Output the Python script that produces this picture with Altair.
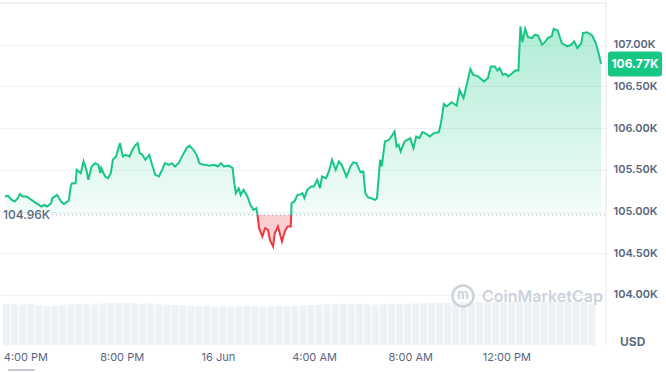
import altair as alt
import pandas as pd

# ---------------- data ----------------
START = "2025-06-15 15:09"
BASE = 104.96
LAST = 106.77

price_minutes = [0, 7, 17, 24, 32, 37, 44, 54, 66, 78, 91, 98, 105, 115, 118, 130, 140, 147, 159, 164,
                 167, 176, 179, 189, 196, 203, 208, 216, 225, 233, 238, 240, 250, 257, 264, 269, 277, 287, 294, 301,
                 311, 318, 326, 331, 336, 343, 350, 360, 367, 375, 384, 392, 399, 409, 416, 424, 433, 446, 453, 460,
                 470, 478, 485, 495, 502, 509, 522, 531, 539, 546, 558, 568, 571, 576, 583, 588, 595, 605, 612, 620,
                 627, 629, 634, 642, 649, 656, 661, 669, 673, 681, 691, 698, 705, 713, 715, 722, 730, 735, 742, 747,
                 754, 764, 771, 779, 786, 791, 801, 808, 816, 825, 833, 840, 852, 862, 869, 877, 887, 894, 899, 906,
                 913, 923, 928, 936, 940, 948, 958, 967, 972, 977, 982, 987, 997, 1004, 1011, 1019, 1026, 1034, 1041, 1048,
                 1060, 1070, 1082, 1087, 1095, 1102, 1114, 1127, 1134, 1144, 1151, 1161, 1168, 1180, 1188, 1195, 1205, 1212, 1222, 1229,
                 1234, 1242, 1249, 1256, 1266, 1273, 1281, 1286, 1291, 1298, 1305, 1315, 1322, 1330, 1340, 1347, 1354, 1364, 1369, 1379,
                 1389, 1396, 1403, 1413, 1420, 1428, 1438, 1442, 1452, 1465, 1474, 1482, 1487]

price_values = [105.18, 105.19, 105.14, 105.12, 105.16, 105.21, 105.18, 105.18, 105.14, 105.10, 105.06, 105.08, 105.06, 105.10, 105.16, 105.20, 105.12, 105.09, 105.13, 105.30,
                105.34, 105.34, 105.50, 105.46, 105.60, 105.50, 105.38, 105.54, 105.58, 105.56, 105.46, 105.52, 105.42, 105.40, 105.46, 105.62, 105.66, 105.82, 105.66, 105.68,
                105.66, 105.74, 105.80, 105.82, 105.70, 105.68, 105.62, 105.68, 105.56, 105.44, 105.42, 105.50, 105.58, 105.56, 105.58, 105.54, 105.58, 105.70, 105.76, 105.79,
                105.74, 105.68, 105.58, 105.56, 105.56, 105.55, 105.56, 105.54, 105.58, 105.54, 105.55, 105.52, 105.38, 105.22, 105.28, 105.20, 105.26, 105.18, 105.08, 105.02,
                105.04, 104.99, 104.80, 104.70, 104.80, 104.78, 104.66, 104.58, 104.74, 104.82, 104.64, 104.76, 104.82, 104.82, 105.10, 105.12, 105.20, 105.20, 105.22, 105.16,
                105.26, 105.30, 105.30, 105.38, 105.28, 105.42, 105.40, 105.48, 105.62, 105.50, 105.60, 105.56, 105.42, 105.54, 105.59, 105.58, 105.47, 105.48, 105.22, 105.17,
                105.16, 105.14, 105.16, 105.62, 105.54, 105.84, 105.86, 105.92, 105.96, 105.78, 105.80, 105.72, 105.84, 105.86, 105.88, 105.76, 105.90, 105.88, 105.95, 105.94,
                105.90, 105.94, 105.95, 106.04, 106.29, 106.26, 106.31, 106.27, 106.46, 106.36, 106.50, 106.71, 106.64, 106.62, 106.59, 106.56, 106.60, 106.74, 106.74, 106.69,
                106.72, 106.64, 106.65, 106.62, 106.66, 106.69, 106.69, 107.22, 107.03, 107.19, 107.09, 107.08, 107.12, 107.11, 107.00, 107.03, 107.08, 107.10, 107.19, 107.17,
                107.02, 107.00, 106.98, 107.00, 107.04, 106.96, 107.02, 107.14, 107.15, 107.11, 107.02, 106.88, 106.77]

volume_values = [1.02, 1.03, 1.01, 1.03, 1.00, 0.98,
                 0.97, 1.00, 1.02, 1.02, 1.03, 1.01,
                 1.04, 1.05, 1.04, 1.05, 1.04, 1.03, 1.04, 1.02,
                 1.01, 1.00, 0.99, 0.98, 0.97, 0.98, 0.96, 0.97,
                 0.96, 0.97, 0.98, 0.97, 0.96, 0.97, 0.98, 0.97,
                 0.98, 0.99, 1.00, 1.01, 1.02, 1.02, 1.03, 1.02,
                 1.03, 1.02, 1.01, 1.02, 1.03, 1.02, 1.03, 1.04,
                 1.04, 1.05, 1.06, 1.05, 1.06, 1.07, 1.06, 1.07,
                 1.07, 1.08, 1.07, 1.08, 1.07, 1.08, 1.08, 1.07,
                 1.08, 1.07, 1.08, 1.08, 1.07, 1.04]

y_ticks = [104.0, 104.5, 105.0, 105.5, 106.0, 106.5, 107.0]

# ---------------- tables ----------------
start = pd.Timestamp(START)

# insert baseline crossings so the up/down colouring splits cleanly
pts = list(zip(price_minutes, price_values))
dense = []
for i, (m, v) in enumerate(pts):
    if i > 0:
        m0, v0 = pts[i - 1]
        if (v0 - BASE) * (v - BASE) < 0:
            mc = m0 + (BASE - v0) / (v - v0) * (m - m0)
            dense.append((mc, BASE, True))
    dense.append((m, v, False))

rows = []
sid = 0
side = "up" if dense[0][1] >= BASE else "down"
for m, v, cross in dense:
    rows.append((m, v, sid, side))
    if cross:
        sid += 1
        side = "down" if side == "up" else "up"
        rows.append((m, v, sid, side))

df = pd.DataFrame(rows, columns=["m", "v", "seg", "side"])
df["t"] = start + pd.to_timedelta(df["m"], unit="min")
df["hi"] = df["v"].clip(lower=BASE)
df["lo"] = df["v"].clip(upper=BASE)
df["base"] = BASE

vol = pd.DataFrame({
    "t": pd.date_range(start + pd.Timedelta(minutes=4), periods=len(volume_values), freq="20min"),
    "vol": volume_values,
})

base_df = pd.DataFrame({"v": [BASE], "label": [f"{BASE:.2f}K"]})
last_df = pd.DataFrame({"v": [LAST], "label": [f"{LAST:.2f}K"]})

# ---------------- encodings ----------------
FONT = "Inter"
GREEN = "#16c784"
RED = "#ea3943"
LABEL = "#58667e"

x_dom = [alt.DateTime(year=2025, month=6, date=15, hours=15, minutes=9),
         alt.DateTime(year=2025, month=6, date=16, hours=15, minutes=56)]
x_vals = [alt.DateTime(year=2025, month=6, date=15, hours=16),
          alt.DateTime(year=2025, month=6, date=15, hours=20),
          alt.DateTime(year=2025, month=6, date=16, hours=0),
          alt.DateTime(year=2025, month=6, date=16, hours=4),
          alt.DateTime(year=2025, month=6, date=16, hours=8),
          alt.DateTime(year=2025, month=6, date=16, hours=12)]


def X(field="t"):
    return alt.X(f"{field}:T", title=None,
                 scale=alt.Scale(domain=x_dom),
                 axis=alt.Axis(values=x_vals, grid=False, domain=False, ticks=False,
                               labelPadding=6, labelFont=FONT, labelFontSize=11,
                               labelColor=LABEL, labelFlush=False, labelOverlap=False,
                               labelExpr="hours(datum.value) == 0 ? timeFormat(datum.value, '%d %b') : timeFormat(datum.value, '%-I:%M %p')"))


def Y(field):
    return alt.Y(f"{field}:Q", title=None,
                 scale=alt.Scale(domain=[103.4, 107.5], nice=False, zero=False),
                 axis=alt.Axis(orient="right", values=y_ticks, grid=True, gridColor="#eff2f5",
                               gridWidth=1, domain=False, ticks=False, labelPadding=7,
                               labelFont=FONT, labelFontSize=11, labelFontWeight=600,
                               labelColor=LABEL, labelAlign="left",
                               labelExpr="format(datum.value, '.2f') + 'K'"))


# ---------------- layers ----------------
volume = alt.Chart(vol).mark_bar(color="#eef1f5", size=7, clip=True).encode(
    x=X(),
    y=alt.Y("vol:Q", scale=alt.Scale(domain=[0, 8.55]), axis=None),
)

green_fill = alt.Chart(df).mark_area(
    clip=True,
    color=alt.Gradient(gradient="linear", x1=1, x2=1, y1=0, y2=1,
                       stops=[alt.GradientStop(color="rgba(22,199,132,0.34)", offset=0),
                              alt.GradientStop(color="rgba(22,199,132,0.05)", offset=1)]),
).encode(x=X(), y=Y("hi"), y2="base:Q")

red_fill = alt.Chart(df).mark_area(clip=True, color=RED, opacity=0.25).encode(
    x=X(), y=Y("lo"), y2="base:Q")

line = alt.Chart(df).mark_line(strokeWidth=2, clip=True).encode(
    x=X(), y=Y("v"),
    color=alt.Color("side:N", scale=alt.Scale(domain=["up", "down"], range=[GREEN, RED]), legend=None),
    detail="seg:N",
    order="m:Q",
)

base_rule = alt.Chart(base_df).mark_rule(color="#9aa3b1", strokeDash=[1, 3], strokeWidth=1).encode(
    x=alt.value(52), x2=alt.value(606), y=Y("v"))

base_text = alt.Chart(base_df).mark_text(align="left", baseline="middle", font=FONT, fontSize=12,
                                         fontWeight=500, color=LABEL).encode(
    x=alt.value(3), y=Y("v"), text="label:N")

badge_shape = ("M-0.88,-0.463 H0.88 Q1,-0.463 1,-0.343 V0.343 Q1,0.463 0.88,0.463 "
               "H-0.88 Q-1,0.463 -1,0.343 V-0.343 Q-1,-0.463 -0.88,-0.463 Z")
badge = alt.Chart(last_df).mark_point(shape=badge_shape, size=2916, filled=True, color=GREEN,
                                      opacity=1, strokeWidth=0).encode(
    x=alt.value(635), y=Y("v"))
badge_text = alt.Chart(last_df).mark_text(align="center", baseline="middle", font=FONT, fontSize=12,
                                          fontWeight="bold", color="white").encode(
    x=alt.value(635), y=Y("v"), text="label:N")

usd = alt.Chart(base_df).mark_text(align="left", baseline="middle", font=FONT, fontSize=12,
                                   fontWeight="bold", color="#616e85", text="USD").encode(
    x=alt.value(620), y=alt.value(339))

top_border = alt.Chart(base_df).mark_rule(color="#e3e6ea", strokeWidth=1).encode(
    x=alt.value(0), x2=alt.value(606), y=alt.value(0))
right_border = alt.Chart(base_df).mark_rule(color="#e3e6ea", strokeWidth=1).encode(
    x=alt.value(606), y=alt.value(0), y2=alt.value(342))

wm_logo = alt.Chart(base_df).mark_point(shape="circle", size=440, filled=False, color="#cdd3db",
                                        strokeWidth=2.5, opacity=1).encode(
    x=alt.value(463), y=alt.value(293))
wm_m = alt.Chart(base_df).mark_text(align="center", baseline="middle", font=FONT, fontSize=13,
                                    fontWeight="bold", color="#cdd3db", text="m").encode(
    x=alt.value(463), y=alt.value(292))
wm_text = alt.Chart(base_df).mark_text(align="left", baseline="middle", font=FONT, fontSize=16,
                                       fontWeight=600, color="#cdd3db", text="CoinMarketCap").encode(
    x=alt.value(482), y=alt.value(294))

scroll = alt.Chart(base_df).mark_rule(color="#c3c9d2", strokeWidth=2, strokeCap="round").encode(
    x=alt.value(9), x2=alt.value(34), y=alt.value(367))

price_layer = alt.layer(green_fill, red_fill, line, base_rule, base_text, badge, badge_text,
                        usd, top_border, right_border, wm_logo, wm_m, wm_text, scroll)

chart = alt.layer(volume, price_layer).resolve_scale(y="independent").properties(
    width=606, height=342,
    autosize=alt.AutoSizeParams(type="none"),
    padding={"left": 0, "top": 3, "right": 60, "bottom": 27},
    background="white",
).configure_view(stroke=None)

chart.save("out.html", embed_options={"renderer": "svg", "actions": False})
